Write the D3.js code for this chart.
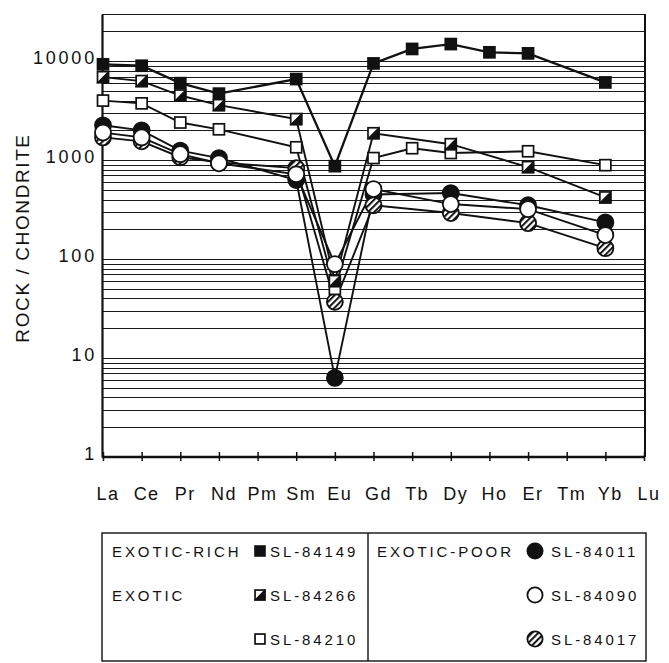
<!DOCTYPE html>
<meta charset="utf-8">
<style>
body { margin: 0; background: #fff; }
text { font-family: "Liberation Sans", Arial, sans-serif; fill: #111; }
.grid { stroke: #1a1a1a; stroke-width: 1px; shape-rendering: crispEdges; }
.frame { fill: none; stroke: #111; shape-rendering: crispEdges; }
.series { fill: none; stroke: #111; }
.legend-box { fill: none; stroke: #111; stroke-width: 1.4px; }
</style>
<svg width="669" height="663"></svg>
<script src="https://d3js.org/d3.v7.min.js"></script>
<script>
var elements = ["La","Ce","Pr","Nd","Pm","Sm","Eu","Gd","Tb","Dy","Ho","Er","Tm","Yb","Lu"];
var yTicks = [1, 10, 100, 1000, 10000];

// rock / chondrite, one value per element (null = not determined)
var sl84149 = [9300, 9000, 6000, 4700, null, 6600, 870, 9500, 13300, 14900, 12300, 12000, null, 6100, null];
var sl84266 = [6900, 6300, 4500, 3600, null, 2600, 60, 1870, null, 1450, null, 850, null, 420, null];
var sl84210 = [4000, 3750, 2400, 2050, null, 1350, 50, 1050, 1320, 1180, null, 1230, null, 890, null];
var sl84011 = [2250, 2000, 1250, 1050, null, 630, 6.3, 450, null, 465, null, 350, null, 235, null];
var sl84090 = [1900, 1700, 1150, 930, null, 720, 89, 510, null, 360, null, 320, null, 175, null];
var sl84017 = [1700, 1550, 1070, 950, null, 830, 37, 350, null, 292, null, 231, null, 129, null];

var series = [
  {name: "SL-84011", marker: "dot", values: sl84011},
  {name: "SL-84017", marker: "hatch", values: sl84017},
  {name: "SL-84090", marker: "ring", values: sl84090},
  {name: "SL-84210", marker: "box", values: sl84210},
  {name: "SL-84266", marker: "half", values: sl84266},
  {name: "SL-84149", marker: "square", values: sl84149}
];

var legendLeft = [["EXOTIC-RICH", "square", "SL-84149"], ["EXOTIC", "half", "SL-84266"], ["", "box", "SL-84210"]];
var legendRight = [["EXOTIC-POOR", "dot", "SL-84011"], ["", "ring", "SL-84090"], ["", "hatch", "SL-84017"]];

var svg = d3.select("svg");
var plotL = 102, plotR = 645, plotT = 14, plotB = 457;

var x = d3.scalePoint().domain(elements).range([103, 644]);
var y = d3.scaleLog().domain([1, 30000]).range([plotB, plotT]);

// hatch pattern for the SL-84017 circles
var pat = svg.append("defs").append("pattern")
    .attr("id", "hatch")
    .attr("patternUnits", "userSpaceOnUse")
    .attr("width", 4.4).attr("height", 4.4)
    .attr("patternTransform", "rotate(45)");
pat.append("rect").attr("width", 4.4).attr("height", 4.4).attr("fill", "#fff");
pat.append("line").attr("x1", 1).attr("x2", 1).attr("y1", 0).attr("y2", 4.4)
    .attr("stroke", "#111").attr("stroke-width", 2);

// log grid: every 1..9 x 10^k
var gridVals = [];
for (var k = 0; k <= 4; k++) {
  for (var m = 1; m <= 9; m++) {
    var v = m * Math.pow(10, k);
    if (v <= 30000) gridVals.push(v);
  }
}
svg.append("g").selectAll("line")
  .data(gridVals)
  .join("line")
    .attr("class", "grid")
    .attr("x1", plotL).attr("x2", plotR)
    .attr("y1", d => Math.round(y(d)) + 0.5)
    .attr("y2", d => Math.round(y(d)) + 0.5);

svg.append("line").attr("class", "frame").attr("stroke-width", 1.2)
    .attr("x1", plotR).attr("x2", plotR).attr("y1", plotT).attr("y2", plotB);

// y axis
var yAxis = svg.append("g")
    .attr("transform", "translate(" + plotL + ",0)")
    .call(d3.axisLeft(y).tickValues(yTicks).tickSize(0).tickPadding(5).tickFormat(d3.format("d")));
yAxis.select(".domain").attr("stroke", "#111").attr("stroke-width", 2.2);
yAxis.selectAll("text")
    .attr("font-family", "'Liberation Sans', Arial, sans-serif")
    .attr("font-size", 18)
    .attr("letter-spacing", 2.8)
    .attr("fill", "#111")
    .attr("dy", "0.12em");

// x axis with crossing ticks
var xAxis = svg.append("g")
    .attr("transform", "translate(0," + plotB + ")")
    .call(d3.axisBottom(x).tickSize(5).tickFormat(""));
xAxis.select(".domain").attr("d", "M" + plotL + ",0H" + plotR).attr("stroke", "#111").attr("stroke-width", 2.4);
xAxis.selectAll(".tick line").attr("y1", -5).attr("y2", 4).attr("stroke", "#111").attr("stroke-width", 1.5);

svg.append("g").selectAll("text")
  .data(elements)
  .join("text")
    .attr("x", d => x(d) + 5)
    .attr("y", 500)
    .attr("text-anchor", "middle")
    .attr("font-size", 18)
    .attr("letter-spacing", 1.5)
    .text(d => d);

svg.append("text")
    .attr("transform", "translate(29,238) rotate(-90)")
    .attr("text-anchor", "middle")
    .attr("font-size", 19)
    .attr("letter-spacing", 1.6)
    .text("ROCK / CHONDRITE");

function drawMarker(g, type, cx, cy, scale) {
  var s = 11 * scale, r = 8 * scale;
  if (type === "square" || type === "box" || type === "half") {
    g.append("rect")
      .attr("x", cx - s / 2).attr("y", cy - s / 2)
      .attr("width", s).attr("height", s)
      .attr("fill", type === "square" ? "#111" : "#fff")
      .attr("stroke", "#111").attr("stroke-width", 1.7);
    if (type === "half") {
      g.append("path")
        .attr("d", "M" + (cx + s / 2) + "," + (cy - s / 2) + "L" + (cx + s / 2) + "," + (cy + s / 2) + "L" + (cx - s / 2) + "," + (cy + s / 2) + "Z")
        .attr("fill", "#111").attr("stroke", "#111").attr("stroke-width", 1.2);
    }
  } else {
    g.append("circle")
      .attr("cx", cx).attr("cy", cy).attr("r", r)
      .attr("fill", type === "dot" ? "#111" : type === "hatch" ? "url(#hatch)" : "#fff")
      .attr("stroke", "#111").attr("stroke-width", 1.8);
  }
}

var line = d3.line().x(d => x(d.el)).y(d => y(d.v));

series.forEach(function(s) {
  var pts = elements.map((el, i) => ({el: el, v: s.values[i]})).filter(d => d.v != null);
  svg.append("path")
      .datum(pts)
      .attr("class", "series")
      .attr("stroke-width", s.marker === "square" ? 2.3 : 1.9)
      .attr("d", line);
});

series.forEach(function(s) {
  var g = svg.append("g");
  elements.forEach(function(el, i) {
    if (s.values[i] != null) drawMarker(g, s.marker, x(el), y(s.values[i]), 1);
  });
});

// legend
var lg = svg.append("g");
lg.append("rect").attr("class", "legend-box")
    .attr("x", 102).attr("y", 533).attr("width", 544).attr("height", 128);
lg.append("line").attr("stroke", "#111").attr("stroke-width", 1.4)
    .attr("x1", 368).attr("x2", 368).attr("y1", 533).attr("y2", 661);

var rowY = [551, 595, 639];
function legendColumn(rows, x0, mx, tx) {
  rows.forEach(function(r, i) {
    lg.append("text").attr("x", x0).attr("y", rowY[i] + 5.5)
      .attr("font-size", 15).attr("letter-spacing", 2.9).text(r[0]);
    var g = lg.append("g");
    var round = r[1] === "dot" || r[1] === "ring" || r[1] === "hatch";
    drawMarker(g, r[1], mx, rowY[i], round ? 0.95 : 0.9);
    lg.append("text").attr("x", tx).attr("y", rowY[i] + 5.5)
      .attr("font-size", 15).attr("letter-spacing", 2.9).text(r[2]);
  });
}
legendColumn(legendLeft, 112, 260, 270);
legendColumn(legendRight, 377, 535, 551);
</script>
